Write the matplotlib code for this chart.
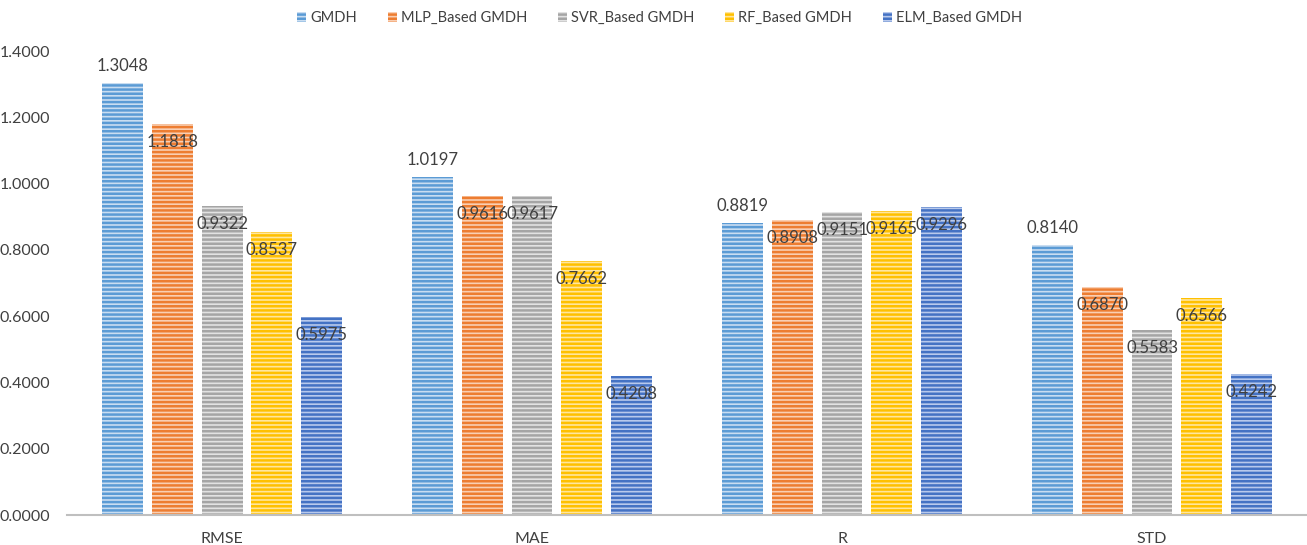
import matplotlib.pyplot as plt
import numpy as np

plt.rcParams['font.family'] = ['Lato', 'DejaVu Sans']
plt.rcParams['hatch.linewidth'] = 1.8

# Data
metrics = ['RMSE', 'MAE', 'R', 'STD']
models = ['GMDH', 'MLP_Based GMDH', 'SVR_Based GMDH', 'RF_Based GMDH', 'ELM_Based GMDH']
gmdh = [1.3048, 1.0197, 0.8819, 0.8140]
mlp = [1.1818, 0.9616, 0.8908, 0.6870]
svr = [0.9322, 0.9617, 0.9151, 0.5583]
rf = [0.8537, 0.7662, 0.9165, 0.6566]
elm = [0.5975, 0.4208, 0.9296, 0.4242]
series = [gmdh, mlp, svr, rf, elm]

colors = ['#5B9BD5', '#ED7D31', '#A5A5A5', '#FFC000', '#4472C4']
light = ['#C9DDF1', '#F9CFB3', '#E2E2E2', '#FFE69E', '#B8C9EC']

fig = plt.figure(figsize=(13.07, 5.45), dpi=100)
ax = fig.add_axes([0.0513, 0.055, 0.9487, 0.851])

x = np.arange(len(metrics))
width = 0.132
pitch = 0.161
text_col = '#404040'

for i, (vals, c, lc, name) in enumerate(zip(series, colors, light, models)):
    pos = x + (i - 2) * pitch
    ax.bar(pos, vals, width, color=lc, edgecolor=c, linewidth=0,
           hatch='----', label=name)
    for px, v in zip(pos, vals):
        # first series labels sit above the bar, the rest overlap the top
        off = 17 if i == 0 else -18
        ax.annotate(f'{v:.4f}', (px, v), xytext=(0, off), textcoords='offset pixels',
                    ha='center', va='center', fontsize=12, color=text_col)

ax.set_xlim(-0.5, 3.5)
ax.set_ylim(0, 1.4)
yt = np.arange(0, 1.41, 0.2)
ax.set_yticks(yt)
ax.set_yticklabels([f'{t:.4f}' for t in yt])
ax.set_xticks(x)
ax.set_xticklabels(metrics)
ax.tick_params(axis='both', length=0, labelsize=11.5, colors=text_col)
ax.tick_params(axis='x', pad=12)
ax.tick_params(axis='y', pad=12)
for s in ['top', 'right', 'left']:
    ax.spines[s].set_visible(False)
ax.spines['bottom'].set_color('#BFBFBF')
ax.spines['bottom'].set_linewidth(1.5)

ax.legend(loc='upper center', bbox_to_anchor=(0.478, 1.115), ncol=5, frameon=False,
          fontsize=10.5, handlelength=0.6, handleheight=0.6, handletextpad=0.3,
          columnspacing=2.1, labelcolor=text_col)

fig.savefig('out.png', dpi=100)
